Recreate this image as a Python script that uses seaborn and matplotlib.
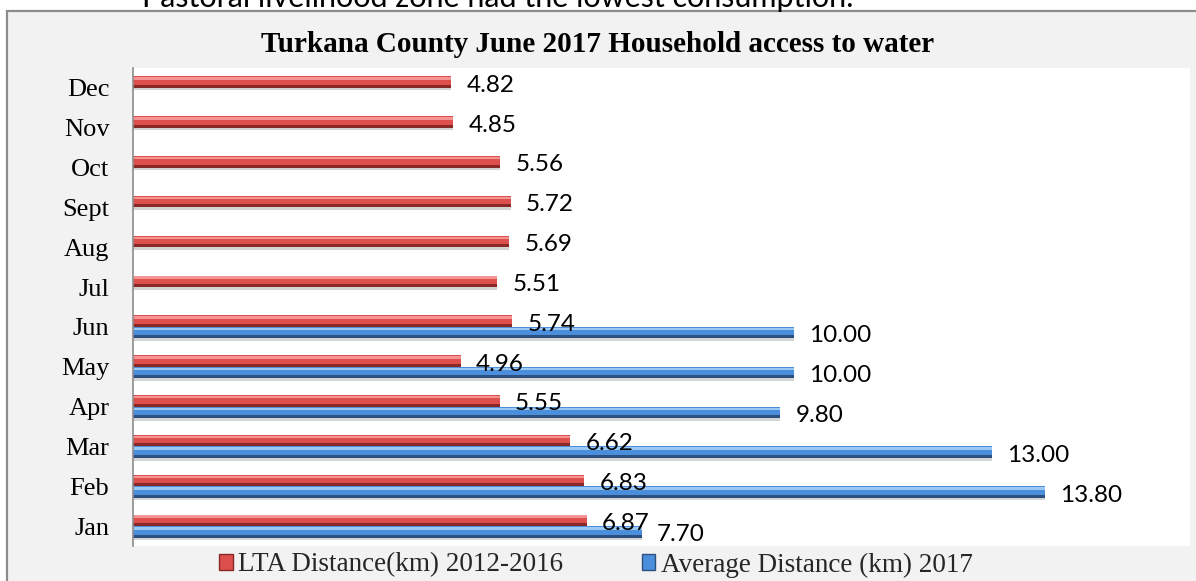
import numpy as np
import pandas as pd
import matplotlib
matplotlib.use("Agg")
import matplotlib.pyplot as plt
from matplotlib.patches import Rectangle
import seaborn as sns

# ---- data ----
months = ["Jan", "Feb", "Mar", "Apr", "May", "Jun", "Jul", "Aug", "Sept", "Oct", "Nov", "Dec"]
lta_2012_2016 = [6.87, 6.83, 6.62, 5.55, 4.96, 5.74, 5.51, 5.69, 5.72, 5.56, 4.85, 4.82]
avg_2017 = [7.70, 13.80, 13.00, 9.80, 10.00, 10.00, np.nan, np.nan, np.nan, np.nan, np.nan, np.nan]
series_names = ["LTA Distance(km) 2012-2016", "Average Distance (km) 2017"]
title = "Turkana County June 2017 Household access to water"
header_text = "Pastoral livelihood zone had the lowest consumption."

df = pd.DataFrame({
    "month": months * 2,
    "series": [series_names[0]] * 12 + [series_names[1]] * 12,
    "value": lta_2012_2016 + avg_2017,
})

sns.set_theme(style="white")
serif = ["Liberation Serif", "DejaVu Serif"]
sans = ["Lato", "DejaVu Sans"]

W, H = 1196, 581
fig = plt.figure(figsize=(W / 100, H / 100), dpi=100, facecolor="white")

# chart frame (light grey box)
frame = Rectangle((7 / W, -0.05), 1.2, 1 - 11 / H + 0.05, transform=fig.transFigure,
                  facecolor="#f2f2f2", edgecolor="#8c8c8c", linewidth=1.6, zorder=-5)
fig.patches.append(frame)

ax = fig.add_axes([133 / W, 1 - 546 / H, (1190 - 133) / W, (546 - 68) / H])
ax.set_zorder(2)
ax.set_facecolor("white")

main_cols = {series_names[0]: "#dd4f4c", series_names[1]: "#4b8fdc"}
light_cols = {series_names[0]: "#f59492", series_names[1]: "#9cc9f2"}
dark_cols = {series_names[0]: "#8a2826", series_names[1]: "#2b4f7f"}

sns.barplot(data=df, x="value", y="month", hue="series", order=months[::-1],
            hue_order=series_names, palette=main_cols, orient="h", errorbar=None,
            width=0.58, dodge=True, legend=False, ax=ax, saturation=1)

ax.set_xlim(0, 16)
ax.set_ylim(11.5, -0.5)

# 3D-ish shading + value labels
for si, cont in enumerate(ax.containers):
    name = series_names[si]
    for bar in cont:
        w = bar.get_width()
        if not np.isfinite(w) or w <= 0:
            continue
        y0, h = bar.get_y(), bar.get_height()
        z = bar.get_zorder()
        bar.set_edgecolor("none")
        # soft shadow underneath
        ax.add_patch(Rectangle((0, y0 + h), w, h * 0.22, facecolor="#d4d4d4",
                               edgecolor="none", zorder=z - 0.2))
        ax.add_patch(Rectangle((0, y0 + h * 0.08), w, h * 0.22, facecolor=light_cols[name],
                               edgecolor="none", zorder=z + 0.1))
        ax.add_patch(Rectangle((0, y0 + h * 0.74), w, h * 0.26, facecolor=dark_cols[name],
                               edgecolor="none", zorder=z + 0.1))
        yc = y0 + h / 2
        ax.annotate(f"{w:.2f}", xy=(w, yc), xytext=(11, -2.2),
                    textcoords="offset points", ha="left", va="center",
                    fontsize=17.5, family=sans, color="black", annotation_clip=False)

ax.set_xlabel("")
ax.set_ylabel("")
ax.set_xticks([])
ax.tick_params(axis="y", length=0, pad=17)
for lab in ax.get_yticklabels():
    lab.set_fontfamily(serif)
    lab.set_fontsize(19)
    lab.set_color("black")
for s in ["top", "right", "bottom"]:
    ax.spines[s].set_visible(False)
ax.spines["left"].set_color("#8c8c8c")
ax.spines["left"].set_linewidth(1.2)

fig.text(0.5, 1 - 44 / H, title, ha="center", va="center", fontsize=21,
         fontweight="bold", family=serif, color="black")
fig.text(142 / W, 1 - 7 / H, header_text, ha="left", va="baseline", fontsize=22,
         family=sans, color="black")

handles = [Rectangle((0, 0), 1, 1, facecolor=main_cols[n], edgecolor=dark_cols[n]) for n in series_names]
fig.legend(handles, series_names, loc="center", bbox_to_anchor=(596 / W, 1 - 565 / H),
           ncol=2, frameon=False, prop={"family": serif, "size": 19.5},
           handlelength=0.5, handleheight=0.5, handletextpad=0.2, columnspacing=2.9,
           borderaxespad=0, borderpad=0)

fig.savefig("out.png", dpi=100, facecolor="white")
